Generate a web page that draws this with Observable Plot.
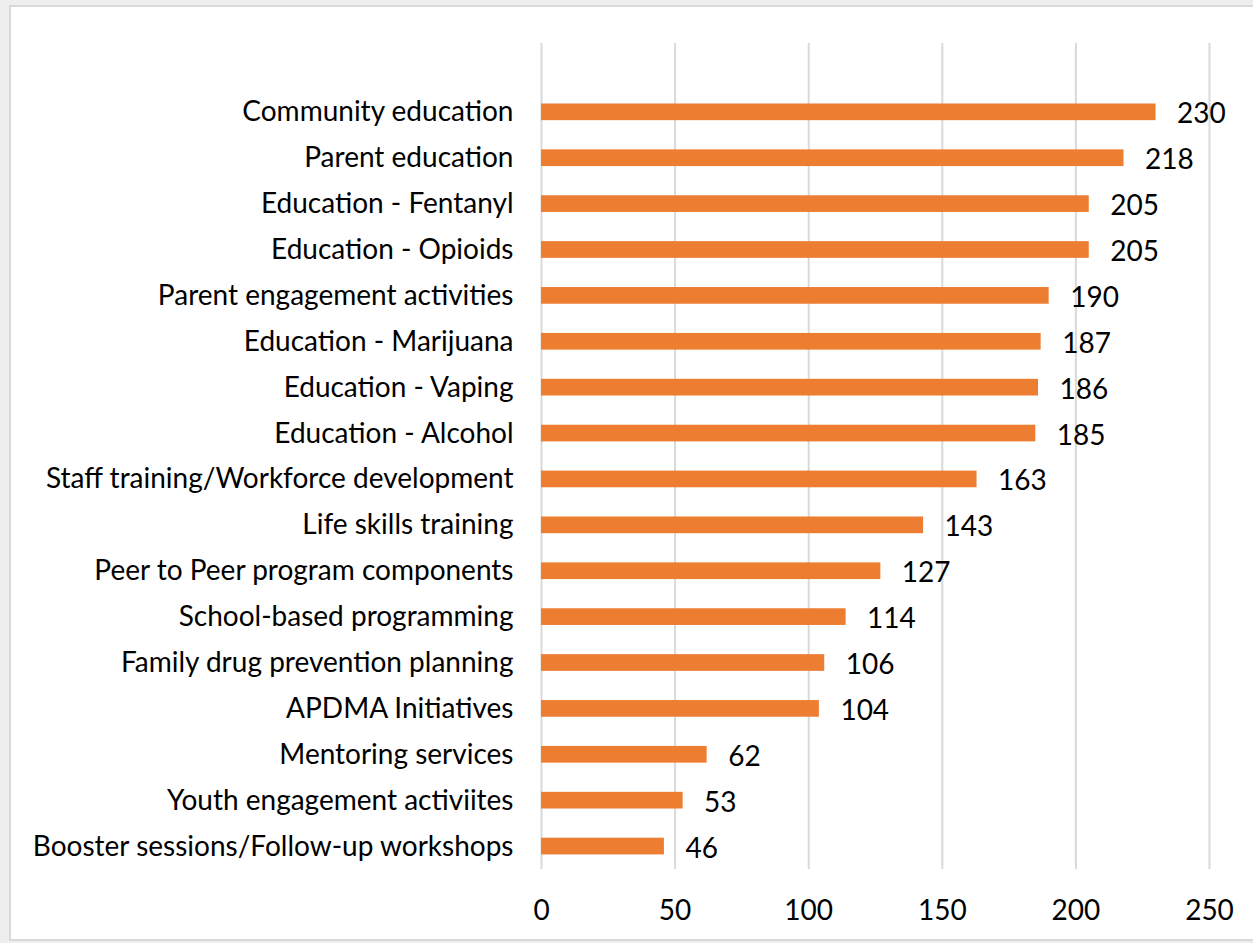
<!DOCTYPE html>
<html>
<head>
<meta charset="utf-8">
<script src="https://cdn.jsdelivr.net/npm/d3@7"></script>
<script src="https://cdn.jsdelivr.net/npm/@observablehq/plot@0.6"></script>
<style>
  html, body { margin: 0; padding: 0; background: #eeeeee; width: 1253px; height: 943px; overflow: hidden; }
  #frame { position: absolute; left: 9px; top: 5px; width: 1260px; height: 932px; background: #ffffff; border: 2px solid #d9d9d9; }
  #chart { position: absolute; left: 0; top: 0; }
</style>
</head>
<body>
<div id="frame"></div>
<div id="chart"></div>
<script>
const categories = [
  "Community education",
  "Parent education",
  "Education - Fentanyl",
  "Education - Opioids",
  "Parent engagement activities",
  "Education - Marijuana",
  "Education - Vaping",
  "Education - Alcohol",
  "Staff training/Workforce development",
  "Life skills training",
  "Peer to Peer program components",
  "School-based programming",
  "Family drug prevention planning",
  "APDMA Initiatives",
  "Mentoring services",
  "Youth engagement activiites",
  "Booster sessions/Follow-up workshops"
];
const values = [230, 218, 205, 205, 190, 187, 186, 185, 163, 143, 127, 114, 106, 104, 62, 53, 46];
const xTicks = [0, 50, 100, 150, 200, 250];

const data = categories.map((c, i) => ({category: c, value: values[i]}));
const font = "Lato, 'Open Sans', sans-serif";

const chart = Plot.plot({
  width: 1253,
  height: 943,
  marginLeft: 541,
  marginRight: 44,
  marginTop: 43,
  marginBottom: 74,
  style: {fontFamily: font, fontSize: "28px", background: "transparent", color: "#000"},
  x: {domain: [0, 250], ticks: xTicks},
  y: {domain: [" ", ...categories], padding: 0, round: false},
  marks: [
    Plot.gridX(xTicks, {stroke: "#d9d9d9", strokeOpacity: 1, strokeWidth: 2}),
    Plot.barX(data, {x: "value", y: "category", fill: "#ED7D31", insetTop: 14.6, insetBottom: 14.6}),
    Plot.text(data, {x: "value", y: "category", text: d => String(d.value), textAnchor: "start", dx: 21, dy: 2, fill: "#000", fontSize: 28}),
    Plot.axisY({tickSize: 0, tickPadding: 28, label: null, fontSize: 28}),
    Plot.axisX(xTicks, {tickSize: 0, tickPadding: 31, label: null, fontSize: 28})
  ]
});
document.getElementById("chart").appendChild(chart);
</script>
</body>
</html>
